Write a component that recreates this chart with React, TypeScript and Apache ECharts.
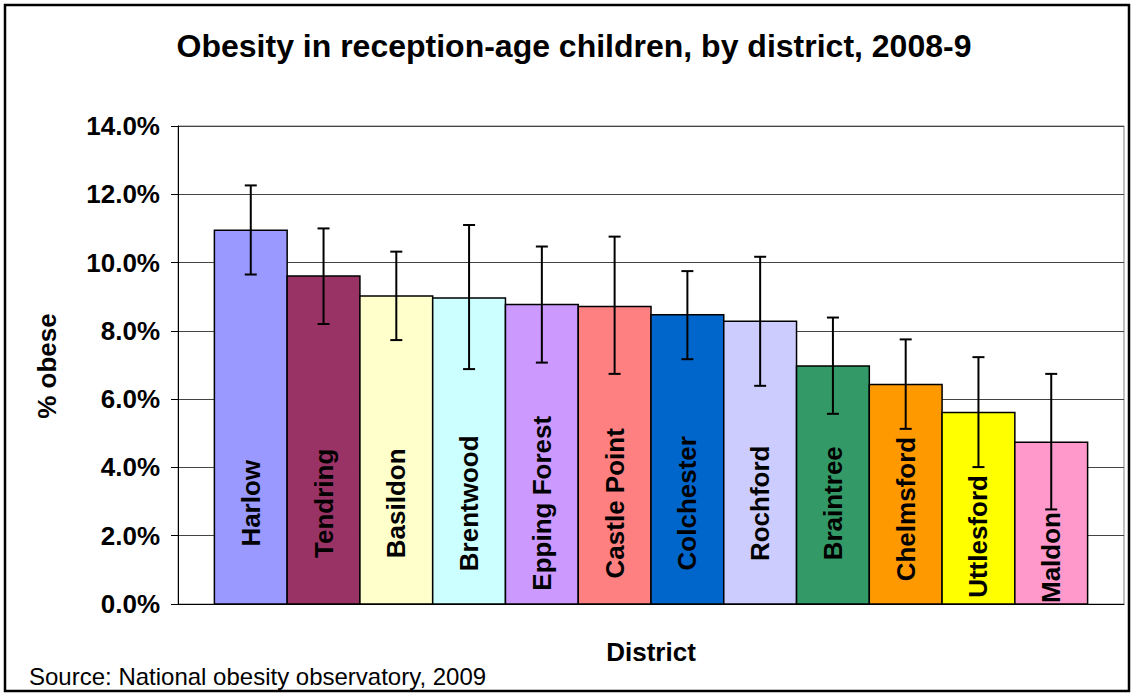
import React, { useEffect, useRef } from "react";
import * as echarts from "echarts";

const categories = [
  "Harlow",
  "Tendring",
  "Basildon",
  "Brentwood",
  "Epping Forest",
  "Castle Point",
  "Colchester",
  "Rochford",
  "Braintree",
  "Chelmsford",
  "Uttlesford",
  "Maldon",
];
const obesePct = [10.95, 9.61, 9.02, 8.96, 8.77, 8.71, 8.47, 8.28, 6.97, 6.43, 5.61, 4.74];
const ciLower = [9.65, 8.2, 7.73, 6.88, 7.07, 6.74, 7.17, 6.39, 5.57, 5.13, 4.01, 2.77];
const ciUpper = [12.26, 11.0, 10.32, 11.1, 10.47, 10.76, 9.75, 10.17, 8.39, 7.75, 7.23, 6.74];
const barColors = [
  "#9999FF",
  "#993366",
  "#FFFFCC",
  "#CCFFFF",
  "#CC99FF",
  "#FF8080",
  "#0066CC",
  "#CCCCFF",
  "#339966",
  "#FF9900",
  "#FFFF00",
  "#FF99CC",
];
const yMin = 0;
const yMax = 14;
const yStep = 2;

const FONT = '"Liberation Sans", Arial, Helvetica, sans-serif';

export default function App() {
  const ref = useRef<HTMLDivElement>(null);

  useEffect(() => {
    if (!ref.current) return;
    const chart = echarts.init(ref.current, null, { renderer: "svg" });

    const canvas = document.createElement("canvas");
    const ctx = canvas.getContext("2d");
    const measure = (t: string) => {
      if (!ctx) return t.length * 15;
      ctx.font = `bold 26px ${FONT}`;
      return ctx.measureText(t).width;
    };

    const data = categories.map((_, i) => [i, obesePct[i], ciLower[i], ciUpper[i]]);

    const option: any = {
      animation: false,
      backgroundColor: "#fff",
      grid: {
        left: 178,
        right: 9,
        top: 126,
        bottom: 90,
        show: true,
        borderColor: "#808080",
        borderWidth: 1,
      },
      xAxis: {
        type: "value",
        min: -1,
        max: 12,
        axisLine: { show: true, onZero: false, lineStyle: { color: "#000", width: 1 } },
        axisTick: { show: false },
        axisLabel: { show: false },
        splitLine: { show: false },
      },
      yAxis: {
        type: "value",
        min: yMin,
        max: yMax,
        interval: yStep,
        axisLine: { show: true, onZero: false, lineStyle: { color: "#000", width: 1 } },
        axisTick: { show: true, length: 7, lineStyle: { color: "#000" } },
        axisLabel: {
          margin: 18,
          formatter: (v: number) => v.toFixed(1) + "%",
          fontFamily: FONT,
          fontWeight: "bold",
          fontSize: 26,
          color: "#000",
        },
        splitLine: { show: true, lineStyle: { color: "#444", width: 1 } },
      },
      series: [
        {
          type: "custom",
          data,
          encode: { x: 0, y: 1 },
          renderItem: (params: any, api: any) => {
            const i = api.value(0);
            const v = api.value(1);
            const lo = api.value(2);
            const hi = api.value(3);
            const p0 = api.coord([i, 0]);
            const p1 = api.coord([i, v]);
            const pLo = api.coord([i, lo]);
            const pHi = api.coord([i, hi]);
            const w = api.size([1, 0])[0];
            const cx = p0[0];
            const name = categories[i];
            const len = measure(name);
            let cy = api.coord([i, 2.95])[1];
            cy = Math.max(cy, pLo[1] + 8 + len / 2);
            cy = Math.min(cy, p0[1] - 1 - len / 2);
            const cap = 6;
            return {
              type: "group",
              children: [
                {
                  type: "rect",
                  shape: { x: cx - w / 2, y: p1[1], width: w, height: p0[1] - p1[1] },
                  style: { fill: barColors[i], stroke: "#000", lineWidth: 1.5 },
                },
                {
                  type: "text",
                  x: cx,
                  y: cy,
                  rotation: Math.PI / 2,
                  style: {
                    text: name,
                    fill: "#000",
                    fontFamily: FONT,
                    fontWeight: "bold",
                    fontSize: 26,
                    align: "center",
                    verticalAlign: "middle",
                  },
                },
                {
                  type: "line",
                  shape: { x1: cx, y1: pLo[1], x2: cx, y2: pHi[1] },
                  style: { stroke: "#000", lineWidth: 2 },
                },
                {
                  type: "line",
                  shape: { x1: cx - cap, y1: pLo[1], x2: cx + cap, y2: pLo[1] },
                  style: { stroke: "#000", lineWidth: 2 },
                },
                {
                  type: "line",
                  shape: { x1: cx - cap, y1: pHi[1], x2: cx + cap, y2: pHi[1] },
                  style: { stroke: "#000", lineWidth: 2 },
                },
              ],
            };
          },
        },
      ],
      graphic: [
        {
          type: "rect",
          z: 100,
          shape: { x: 5, y: 5, width: 1124, height: 686 },
          style: { fill: "none", stroke: "#000", lineWidth: 2.5 },
        },
        {
          type: "text",
          x: 574,
          y: 46,
          style: {
            text: "Obesity in reception-age children, by district, 2008-9",
            fill: "#000",
            fontFamily: FONT,
            fontWeight: "bold",
            fontSize: 32,
            align: "center",
            verticalAlign: "middle",
          },
        },
        {
          type: "text",
          x: 47,
          y: 366,
          rotation: Math.PI / 2,
          style: {
            text: "% obese",
            fill: "#000",
            fontFamily: FONT,
            fontWeight: "bold",
            fontSize: 26,
            align: "center",
            verticalAlign: "middle",
          },
        },
        {
          type: "text",
          x: 651,
          y: 652,
          style: {
            text: "District",
            fill: "#000",
            fontFamily: FONT,
            fontWeight: "bold",
            fontSize: 26,
            align: "center",
            verticalAlign: "middle",
          },
        },
        {
          type: "text",
          x: 29,
          y: 676,
          style: {
            text: "Source: National obesity observatory, 2009",
            fill: "#000",
            fontFamily: FONT,
            fontSize: 24,
            align: "left",
            verticalAlign: "middle",
          },
        },
      ],
    };

    chart.setOption(option);
    return () => chart.dispose();
  }, []);

  return (
    <div
      ref={ref}
      style={{ position: "absolute", left: 0, top: 0, width: 1133, height: 694, background: "#fff" }}
    />
  );
}
